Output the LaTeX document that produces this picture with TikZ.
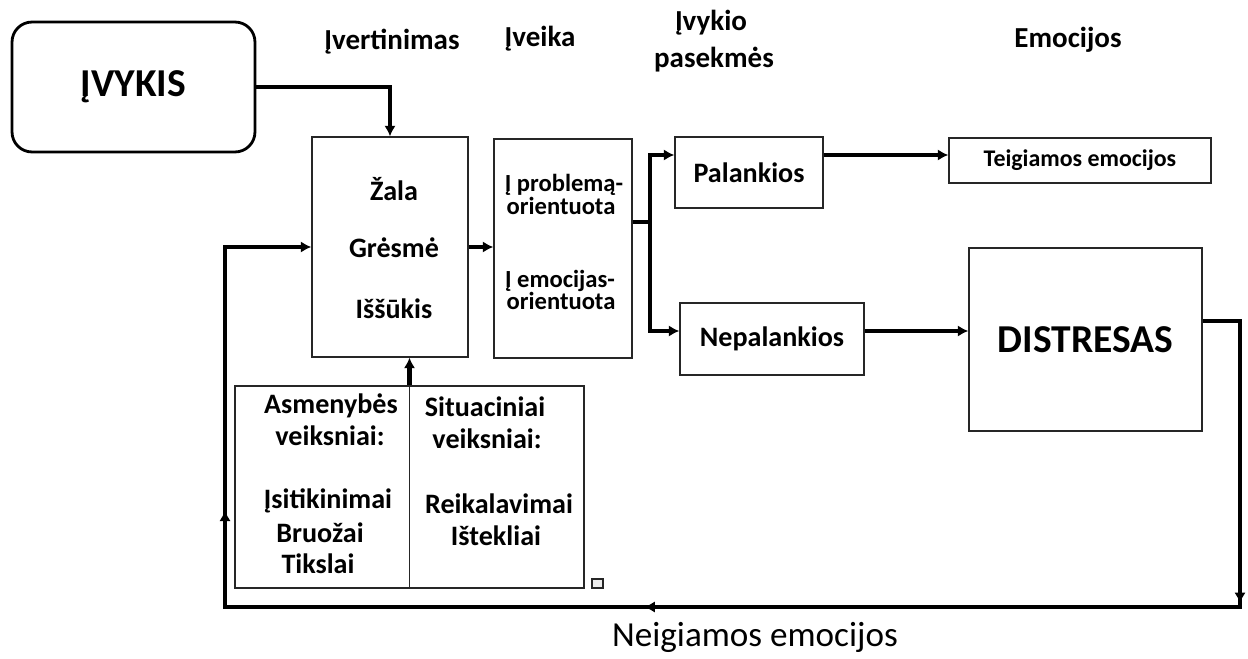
\documentclass[tikz,border=0pt]{standalone}
\usepackage{fontspec}
\setmainfont{Carlito}
\usetikzlibrary{arrows.meta,decorations.markings}

\begin{document}
\begin{tikzpicture}[x=0.02cm,y=-0.02cm,
    box/.style={draw=black!85,line width=0.8pt,inner sep=0pt},
    hdr/.style={anchor=base,inner sep=0pt,font=\fontsize{16.5}{19}\selectfont\bfseries},
    txt/.style={anchor=base,inner sep=0pt,font=\fontsize{16}{19}\selectfont\bfseries},
    sml/.style={anchor=base,inner sep=0pt,font=\fontsize{14}{17}\selectfont\bfseries},
    conn/.style={line width=2.4pt},
    arr/.style={conn,-{Latex[length=6pt,width=6.5pt]}}]
    \useasboundingbox (0,0) rectangle (1248,659);

    % column headers
    \node[hdr] (hApp)  at ( 392, 50) {Įvertinimas};
    \node[hdr] (hCop)  at ( 540, 46) {Įveika};
    \node[hdr] (hCon1) at ( 711, 31) {Įvykio};
    \node[hdr] (hCon2) at ( 714, 67) {pasekmės};
    \node[hdr] (hEmo)  at (1068, 48) {Emocijos};

    % boxes
    \node[box,draw=black,line width=1.6pt,rounded corners=0.4cm,minimum width=4.86cm,minimum height=2.6cm,
          font=\fontsize{22.5}{26}\selectfont\bfseries] (event) at (133.5,87) {ĮVYKIS};
    \node[box,minimum width=3.12cm,minimum height=4.4cm] (appraisal) at (390,247) {};
    \node[box,minimum width=2.76cm,minimum height=4.38cm] (coping) at (563,248.5) {};
    \node[box,minimum width=2.96cm,minimum height=1.42cm,font=\fontsize{16}{19}\selectfont\bfseries] (favor) at (749,172.5) {Palankios};
    \node[box,minimum width=5.24cm,minimum height=0.9cm,font=\fontsize{13.6}{16}\selectfont\bfseries] (posemo) at (1080,160.5) {Teigiamos emocijos};
    \node[box,minimum width=3.68cm,minimum height=1.44cm,font=\fontsize{16}{19}\selectfont\bfseries] (unfavor) at (772,339) {Nepalankios};
    \node[box,minimum width=4.66cm,minimum height=3.66cm,font=\fontsize{22.5}{26}\selectfont\bfseries] (distress) at (1085.5,339.5) {DISTRESAS};
    \node[box,minimum width=6.98cm,minimum height=4.04cm] (factors) at (409.5,487) {};
    \node[box,fill=gray!15,minimum width=0.22cm,minimum height=0.18cm] (tick) at (597.5,583.5) {};
    \draw[draw=black!85,line width=0.8pt] (factors.north) -- (factors.south);

    % texts inside boxes
    \node[txt] (harm)   at (394,200) {Žala};
    \node[txt] (threat) at (394,257) {Grėsmė};
    \node[txt] (chall)  at (394,318) {Iššūkis};
    \node[sml] (prob1) at (564,191) {Į problemą-};
    \node[sml] (prob2) at (561,214) {orientuota};
    \node[sml] (emo1)  at (560,287) {Į emocijas-};
    \node[sml] (emo2)  at (561,309) {orientuota};
    \node[txt] (pers1) at (331,413) {Asmenybės};
    \node[txt] (pers2) at (330,445) {veiksniai:};
    \node[txt] (pers3) at (328,508) {Įsitikinimai};
    \node[txt] (pers4) at (320,542) {Bruožai};
    \node[txt] (pers5) at (318,573) {Tikslai};
    \node[txt] (sit1) at (485,416) {Situaciniai};
    \node[txt] (sit2) at (487,448) {veiksniai:};
    \node[txt] (sit3) at (499,513) {Reikalavimai};
    \node[txt] (sit4) at (496,545) {Ištekliai};
    \node[anchor=base,inner sep=0pt,font=\fontsize{20}{24}\selectfont] (negemo) at (755,646) {Neigiamos emocijos};

    % connectors
    \coordinate (fork) at (650,222);
    \coordinate (rowA) at (0,155);
    \coordinate (rowB) at (0,331);
    \coordinate (rc) at (1240,321);
    \coordinate (rb) at (1240,607);
    \coordinate (lb) at (225,607);
    \coordinate (lt) at (225,247);
    \draw[arr] (event.east) -| (appraisal.north);
    \draw[arr] (appraisal.east) -- (appraisal.east -| coping.west);
    \draw[arr] (factors.north) -- (factors.north |- appraisal.south);
    \draw[conn] (coping.east |- fork) -- (fork);
    \draw[arr] (fork) |- (favor.west |- rowA);
    \draw[arr] (fork) |- (unfavor.west |- rowB);
    \draw[arr] (favor.east |- rowA) -- (posemo.west |- rowA);
    \draw[arr] (unfavor.east |- rowB) -- (distress.west |- rowB);
    % feedback loop
    \draw[arr,postaction={decorate},decoration={markings,
        mark=at position 0.179 with {\arrow{Latex[length=6pt,width=6.5pt]}},
        mark=at position 0.515 with {\arrow{Latex[length=6pt,width=6.5pt]}},
        mark=at position 0.804 with {\arrow{Latex[length=6pt,width=6.5pt]}}}]
      (rc -| distress.east) -- (rc) -- (rb) -- (lb) -- (lt) -- (lt -| appraisal.west);
\end{tikzpicture}
\end{document}
